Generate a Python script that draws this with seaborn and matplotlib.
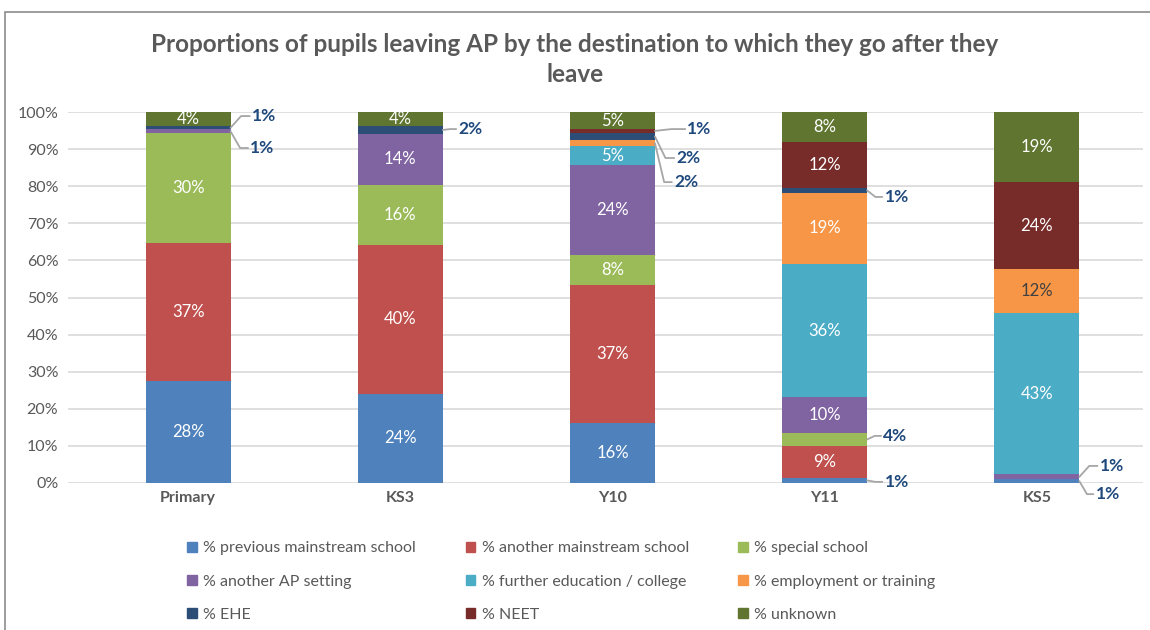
import matplotlib
matplotlib.use("Agg")
import matplotlib.pyplot as plt
import matplotlib.patches as mpatches
import numpy as np
import pandas as pd
import seaborn as sns

# ---------------- data ----------------
stages = ["Primary", "KS3", "Y10", "Y11", "KS5"]
series = ["% previous mainstream school", "% another mainstream school", "% special school",
          "% another AP setting", "% further education / college", "% employment or training",
          "% EHE", "% NEET", "% unknown"]
prev_mainstream = [27.6, 24.0, 16.2, 1.4, 1.0]
another_mainstream = [37.2, 40.2, 37.3, 8.6, 0]
special_school = [29.5, 16.1, 8.0, 3.5, 0]
another_ap = [1.0, 13.9, 24.1, 9.7, 1.3]
further_ed = [0, 0, 5.2, 35.8, 43.4]
employment = [0, 0, 1.6, 19.2, 11.9]
ehe = [0.9, 1.9, 2.0, 1.3, 0]
neet = [0, 0, 1.0, 12.4, 23.6]
unknown = [3.8, 3.9, 4.6, 8.1, 18.8]

values = [prev_mainstream, another_mainstream, special_school, another_ap,
          further_ed, employment, ehe, neet, unknown]
colors = ["#4F81BD", "#C0504D", "#9BBB59", "#8064A2", "#4BACC6", "#F79646",
          "#2C4D75", "#772C2A", "#5F7530"]

# callout layout for small segments: (stage idx, series idx) -> (label x offset from bar edge, label y in %)
callouts = {
    (0, 6): (0.165, 98.9), (0, 3): (0.15, 90.3),
    (1, 6): (0.115, 95.4),
    (2, 7): (0.26, 95.4), (2, 6): (0.165, 87.6), (2, 5): (0.145, 81.1),
    (3, 6): (0.13, 77.1), (3, 2): (0.12, 12.7), (3, 0): (0.13, 0.3),
    (4, 3): (0.155, 4.6), (4, 0): (0.12, -3.0),
}
dark_label = {(4, 5)}

# ---------------- figure ----------------
sns.set_theme(style="white")
plt.rcParams["font.family"] = ["Lato", "DejaVu Sans"]
gray = "#595959"

fig = plt.figure(figsize=(11.5, 6.3), dpi=100)
ax = fig.add_axes([68 / 1150, (630 - 483) / 630, (1143 - 68) / 1150, (483 - 112) / 630])

data = np.array(values, dtype=float)
cum = np.cumsum(data, axis=0)
bw = 0.4
for i in reversed(range(len(series))):
    df = pd.DataFrame({"stage": stages, "v": cum[i]})
    sns.barplot(data=df, x="stage", y="v", color=colors[i], saturation=1, width=bw,
                linewidth=0, ax=ax, order=stages, zorder=2)

ax.set_ylim(0, 100)
ax.set_xlim(-0.5 - 14 / 212.25, len(stages) - 0.5)
ax.set_yticks(np.arange(0, 101, 10))
ax.set_yticklabels([f"{t}%" for t in range(0, 101, 10)], color=gray, fontsize=11.5)
ax.set_xticklabels(stages, color=gray, fontsize=11.5, fontweight="bold")
ax.tick_params(axis="y", length=0, pad=7)
ax.tick_params(axis="x", length=0, pad=6)
ax.set_xlabel("")
ax.set_ylabel("")
for s in ax.spines.values():
    s.set_visible(False)
ax.yaxis.grid(True, color="#D9D9D9", linewidth=1.2, zorder=0)
ax.set_axisbelow(True)

# labels
for j, st in enumerate(stages):
    for i in range(len(series)):
        v = data[i, j]
        if v <= 0:
            continue
        lo = cum[i, j] - v
        yc = lo + v / 2
        txt = f"{int(round(v))}%"
        if (j, i) in callouts:
            dx, yl = callouts[(j, i)]
            xr = j + bw / 2
            ax.plot([xr, xr + dx * 0.3, xr + dx * 0.55], [yc, yl, yl], color="#A6A6A6",
                    lw=1.3, clip_on=False, zorder=3)
            ax.text(xr + dx * 0.55 + 0.01, yl, txt, ha="left", va="center", fontsize=12.5,
                    fontweight="bold", color="#1F497D", clip_on=False)
        else:
            c = "#404040" if (j, i) in dark_label else "white"
            ax.text(j, yc, txt, ha="center", va="center", fontsize=12, color=c, zorder=4)

# legend (row-wise order)
handles = [mpatches.Patch(color=colors[i], label=series[i]) for i in range(len(series))]
order = [0, 3, 6, 1, 4, 7, 2, 5, 8]
leg = fig.legend([handles[k] for k in order], [series[k] for k in order], ncol=3,
                 loc="upper left", bbox_to_anchor=(173 / 1150, 1 - 527 / 630), frameon=False,
                 fontsize=11.5, handlelength=0.6, handleheight=0.6, handletextpad=0.4,
                 columnspacing=3.1, labelspacing=1.2)
for t in leg.get_texts():
    t.set_color(gray)

fig.text(0.5, 1 - 45 / 630, "Proportions of pupils leaving AP by the destination to which they go after they",
         ha="center", va="center", fontsize=17.5, fontweight="bold", color=gray)
fig.text(0.5, 1 - 74 / 630, "leave", ha="center", va="center", fontsize=17.5,
         fontweight="bold", color=gray)

fig.patches.append(mpatches.Rectangle((5 / 1150, -0.01), 1.2, 1 - 12 / 630 + 0.01,
                                      transform=fig.transFigure, fill=False,
                                      edgecolor="#8C8C8C", linewidth=1.2))

fig.savefig("out.png", dpi=100)
